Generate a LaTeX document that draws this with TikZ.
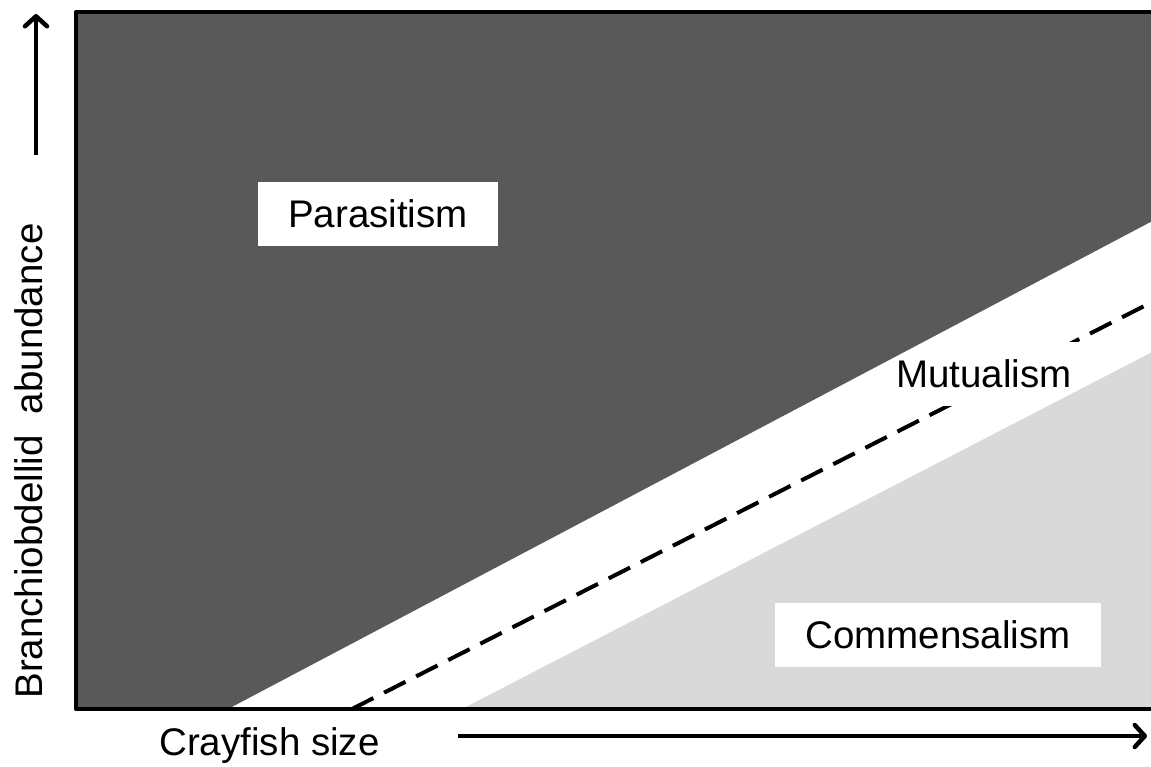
\documentclass[tikz,border=0pt]{standalone}
\usepackage{fontspec}
\setmainfont{Liberation Sans}
\usetikzlibrary{arrows.meta}
\definecolor{parasitegray}{HTML}{595959}
\definecolor{commensalgray}{HTML}{D9D9D9}

\begin{document}
\begin{tikzpicture}[x=1pt,y=-1pt,
    every node/.style={font=\fontsize{38.5}{46}\selectfont},
    zonelabel/.style={fill=white, inner xsep=30pt, inner ysep=0pt, minimum height=64pt},
    axisarrow/.style={line width=4.5pt, -{Straight Barb[length=10pt,width=22pt,round]}}]
      \useasboundingbox (0,0) rectangle (1151,767);
      \clip (0,0) rectangle (1151,767);
      % mutualism band (white) with its dashed line
      \coordinate (dashstart) at (352,709);
      \coordinate (dashend)   at (1160,298);
      \draw[line width=4pt, dash pattern=on 24pt off 12pt] (dashstart) -- (dashend);
      \node[zonelabel] (mutualism) at (984,373.5) {Mutualism};
      % other zones
      \fill[parasitegray]  (76,12) -- (1160,12) -- (1160,217) -- (228,709) -- (76,709) -- cycle;
      \fill[commensalgray] (462,709) -- (1160,348) -- (1160,709) -- cycle;
      % frame
      \draw[line width=4.5pt, line join=round] (1160,12) -- (76,12) -- (76,709) -- (1160,709);
      \node[zonelabel] (parasitism)   at (378,214) {Parasitism};
      \node[zonelabel] (commensalism) at (938,635) {Commensalism};
      % axes
      \coordinate (ytail) at (36,155);
      \coordinate (yhead) at (36,14);
      \coordinate (xtail) at (458,736);
      \coordinate (xhead) at (1147,736);
      \draw[axisarrow] (ytail) -- (yhead);
      \draw[axisarrow] (xtail) -- (xhead);
      \node[anchor=base] (xlabel) at (269.5,755) {Crayfish size};
      \node[anchor=base, rotate=90] (ylabel) at (42,461) {Branchiobdellid~~abundance};
    \end{tikzpicture}
\end{document}
